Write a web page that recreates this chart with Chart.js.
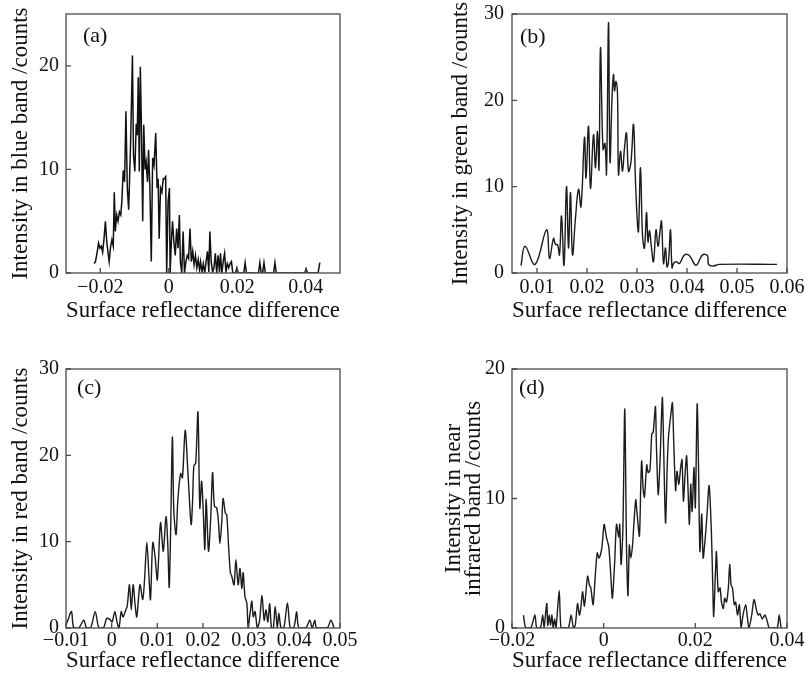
<!DOCTYPE html>
<html>
<head>
<meta charset="utf-8">
<script src="https://cdn.jsdelivr.net/npm/chart.js@4.4.0/dist/chart.umd.min.js"></script>
<style>
body{margin:0;background:#fff;}
#wrap{position:relative;width:807px;height:673px;background:#fff;}
canvas{position:absolute;}
</style>
</head>
<body>
<div id="wrap">
<canvas id="cA" width="360" height="335" style="left:0;top:0"></canvas>
<canvas id="cB" width="367" height="335" style="left:440px;top:0"></canvas>
<canvas id="cC" width="360" height="338" style="left:0;top:335px"></canvas>
<canvas id="cD" width="367" height="338" style="left:440px;top:335px"></canvas>
</div>
<script>
// ===================== Daten =====================
const xTitle = "Surface reflectance difference";

// (a) blue band
const xsA = [-0.0218,-0.0214,-0.0209,-0.0205,-0.0201,-0.0197,-0.0193,-0.0189,-0.0185,-0.0181,
  -0.0177,-0.0174,-0.0170,-0.0166,-0.0162,-0.0159,-0.0156,-0.0152,-0.0148,-0.0144,
  -0.0140,-0.0137,-0.0133,-0.0129,-0.0125,-0.0121,-0.0117,-0.0111,-0.0106,-0.0103,
  -0.0099,-0.0095,-0.0092,-0.0089,-0.0086,-0.0083,-0.0080,-0.0076,-0.0073,-0.0069,
  -0.0066,-0.0062,-0.0059,-0.0055,-0.0051,-0.0047,-0.0043,-0.0038,-0.0034,-0.0031,
  -0.0028,-0.0024,-0.0020,-0.0016,-0.0013,-0.0009,-0.0006,-0.0002,0.0002,0.0004,
  0.0008,0.0011,0.0015,0.0019,0.0023,0.0027,0.0031,0.0034,0.0038,0.0042,
  0.0046,0.0050,0.0054,0.0058,0.0062,0.0066,0.0070,0.0074,0.0078,0.0082,
  0.0086,0.0090,0.0093,0.0097,0.0101,0.0105,0.0109,0.0113,0.0117,0.0120,
  0.0124,0.0128,0.0132,0.0136,0.0140,0.0144,0.0148,0.0151,0.0155,0.0159,
  0.0163,0.0167,0.0171,0.0175,0.0179,0.0183,0.0187,0.0195,0.0199,0.0203,
  0.0219,0.0223,0.0227,0.0262,0.0266,0.0270,0.0274,0.0278,0.0282,0.0306,
  0.0310,0.0314,0.0397,0.0401,0.0405,0.0436,0.0441];
const ysA = [0.9,1.1,2.0,2.9,2.4,2.6,2.0,3.3,5.0,3.0,
  1.9,1.1,2.5,3.2,2.6,7.8,4.0,5.6,5.0,5.9,
  5.6,6.9,9.9,8.8,15.6,8.2,6.1,13.0,21.0,11.4,
  9.8,14.4,13.3,18.9,9.8,19.9,14.6,5.0,14.3,10.0,
  10.7,8.8,11.9,8.2,1.1,11.1,10.4,13.5,8.2,9.1,
  3.3,8.2,7.8,9.1,9.1,9.3,0,6.9,8.2,0,
  3.3,5.0,3.0,1.7,4.3,2.4,5.6,1.1,0,4.0,
  0,1.1,1.7,1.4,4.3,1.1,2.1,0.8,1.7,0.5,
  1.3,0.3,1.1,0.1,0.9,0,1.1,2.1,0.1,4.0,
  1.1,0.1,0.5,1.9,0,1.7,0.1,1.9,0,1.1,
  1.9,0.1,0.9,0.5,0.9,1.1,0,0,0.5,0,
  0,1.0,0,0,1.0,0,0,1.0,0,0,
  1.0,0,0,0.4,0,0,1.0];
const xTicksA = [-0.02, 0, 0.02, 0.04];
const xLabelsA = ["\u22120.02", "0", "0.02", "0.04"];
const yTicksA = [0, 10, 20];

// (b) green band
const xsB = [0.0068,0.0076,0.0096,0.0119,0.0125,0.0133,0.0137,0.0141,0.0145,0.0149,
  0.0154,0.0159,0.0163,0.0167,0.0171,0.0177,0.0183,0.0188,0.0195,0.0198,
  0.0203,0.0207,0.0213,0.0217,0.0221,0.0224,0.0227,0.0232,0.0236,0.0239,
  0.0243,0.0246,0.0250,0.0253,0.0255,0.0258,0.0261,0.0263,0.0267,0.0271,
  0.0275,0.0279,0.0283,0.0288,0.0293,0.0297,0.0301,0.0303,0.0307,0.0311,
  0.0315,0.0319,0.0322,0.0325,0.0329,0.0333,0.0338,0.0342,0.0346,0.0349,
  0.0353,0.0357,0.0360,0.0363,0.0367,0.0370,0.0373,0.0378,0.0385,0.0395,
  0.0405,0.0418,0.0431,0.0441,0.0443,0.0451,0.0465,0.0580];
const ysB = [0.85,3.1,1.0,5.0,1.7,4.0,3.3,3.3,2.1,6.6,
  0.9,10.0,2.9,9.3,2.1,6.4,9.7,7.7,15.7,11.0,
  17.0,9.8,16.0,12.2,16.4,12.0,26.1,14.3,15.0,11.5,
  29.0,12.9,20.3,23.0,21.1,22.2,20.7,11.4,14.1,11.8,
  14.5,16.2,11.8,12.9,17.2,10.6,5.6,4.8,12.2,4.4,
  2.9,7.0,3.6,4.9,2.9,1.3,5.0,3.1,4.8,6.0,
  1.1,2.9,0.7,1.3,5.0,0.6,1.1,1.3,1.1,2.1,
  2.0,0.9,2.1,2.0,1.0,0.8,1.0,1.0];
const xTicksB = [0.01, 0.02, 0.03, 0.04, 0.05, 0.06];
const xLabelsB = ["0.01", "0.02", "0.03", "0.04", "0.05", "0.06"];
const yTicksB = [0, 10, 20, 30];

// (c) red band
const xsC = [-0.0101,-0.0096,-0.0088,-0.0083,-0.0072,-0.0061,-0.0055,-0.0046,-0.0036,-0.0028,
  -0.0018,-0.0011,-0.0004,0.0001,0.0007,0.0012,0.0016,0.0021,0.0025,0.0031,
  0.0034,0.0039,0.0043,0.0047,0.0051,0.0055,0.0062,0.0068,0.0072,0.0077,
  0.0082,0.0085,0.0090,0.0095,0.0100,0.0107,0.0113,0.0119,0.0123,0.0126,
  0.0129,0.0133,0.0136,0.0141,0.0145,0.0151,0.0155,0.0161,0.0167,0.0174,
  0.0177,0.0180,0.0184,0.0189,0.0193,0.0197,0.0201,0.0204,0.0207,0.0212,
  0.0217,0.0221,0.0225,0.0230,0.0234,0.0237,0.0241,0.0244,0.0249,0.0252,
  0.0256,0.0260,0.0263,0.0268,0.0272,0.0277,0.0281,0.0285,0.0288,0.0292,
  0.0296,0.0299,0.0303,0.0307,0.0310,0.0314,0.0319,0.0324,0.0329,0.0334,
  0.0338,0.0342,0.0346,0.0350,0.0354,0.0358,0.0363,0.0366,0.0371,0.0377,
  0.0385,0.0391,0.0399,0.0405,0.0410,0.0425,0.0434,0.0439,0.0445,0.0449,
  0.0472,0.0480,0.0487];
const ysC = [0.2,0.9,1.9,0,0,0.9,0,0,1.9,0,
  0,1.1,1.0,0.7,1.9,0.6,0,1.9,1.3,2.1,
  2.5,5.0,2.1,5.0,2.9,1.3,5.0,3.3,5.6,9.9,
  5.6,3.3,9.9,8.3,5.6,12.2,8.9,12.9,9.5,4.7,
  11.0,22.1,13.7,10.8,14.9,17.9,17.4,22.9,18.0,12.0,
  14.5,18.8,19.1,25.0,13.9,17.0,12.9,9.1,14.9,8.9,
  12.9,18.0,14.1,13.9,12.2,9.8,12.2,15.0,13.3,13.1,
  9.5,6.4,6.0,5.0,7.9,5.0,6.9,4.6,6.4,3.6,
  2.9,0,1.7,3.1,1.3,1.9,0,0.9,3.8,0.9,
  2.1,0.7,2.8,0,0,2.5,0,1.7,0,0,
  2.9,0,0,1.9,0,0,0.9,0,0.9,0,
  0,0.9,0];
const xTicksC = [-0.01, 0, 0.01, 0.02, 0.03, 0.04, 0.05];
const xLabelsC = ["\u22120.01", "0", "0.01", "0.02", "0.03", "0.04", "0.05"];
const yTicksC = [0, 10, 20, 30];

// (d) near infrared band
const xsD = [-0.0175,-0.0170,-0.0159,-0.0150,-0.0146,-0.0138,-0.0133,-0.0130,-0.0127,-0.0124,
  -0.0122,-0.0119,-0.0116,-0.0113,-0.0110,-0.0107,-0.0104,-0.0097,-0.0093,-0.0084,
  -0.0077,-0.0071,-0.0066,-0.0062,-0.0057,-0.0053,-0.0050,-0.0046,-0.0042,-0.0035,
  -0.0031,-0.0028,-0.0023,-0.0018,-0.0014,-0.0010,-0.0004,0.0001,0.0006,0.0011,
  0.0015,0.0019,0.0024,0.0028,0.0033,0.0035,0.0038,0.0042,0.0046,0.0050,
  0.0053,0.0056,0.0059,0.0063,0.0066,0.0070,0.0073,0.0078,0.0081,0.0083,
  0.0086,0.0089,0.0094,0.0097,0.0101,0.0105,0.0108,0.0113,0.0115,0.0119,
  0.0123,0.0128,0.0131,0.0135,0.0139,0.0142,0.0146,0.0150,0.0153,0.0157,
  0.0160,0.0164,0.0168,0.0171,0.0174,0.0178,0.0181,0.0184,0.0187,0.0190,
  0.0193,0.0197,0.0200,0.0204,0.0207,0.0210,0.0214,0.0217,0.0221,0.0225,
  0.0230,0.0235,0.0238,0.0240,0.0244,0.0246,0.0250,0.0254,0.0257,0.0261,
  0.0264,0.0268,0.0272,0.0275,0.0278,0.0281,0.0285,0.0288,0.0292,0.0296,
  0.0300,0.0304,0.0310,0.0313,0.0317,0.0323,0.0328,0.0334,0.0337,0.0341,
  0.0346,0.0352,0.0357,0.0361,0.0366,0.0374,0.0379,0.0383,0.0387];
const ysD = [1.0,0,0,1.0,0,0,1.0,0,1.0,1.9,
  0.2,1.0,0.2,1.0,0,0.7,0,2.9,0,0,
  0,1.0,0,0.2,1.9,1.0,1.5,2.8,1.7,4.0,
  3.3,3.1,1.8,4.2,5.8,5.4,6.2,8.0,7.0,6.3,
  4.4,2.3,5.1,8.0,7.0,8.0,4.9,7.7,16.9,5.9,
  2.5,6.4,5.4,6.4,8.1,9.9,8.8,7.1,11.1,12.9,
  10.8,10.1,12.6,12.0,12.2,15.0,15.1,17.1,14.2,10.3,
  12.9,17.8,13.7,8.1,12.9,15.0,16.3,17.4,14.2,10.6,
  12.1,11.1,12.4,13.0,9.8,12.1,13.3,10.8,8.0,11.1,
  9.0,12.4,9.3,17.3,12.4,5.9,8.8,5.4,6.7,8.5,
  11.0,7.5,3.3,0.9,4.4,5.9,2.8,3.1,2.0,1.5,
  2.3,2.0,3.1,4.9,3.3,3.1,1.8,2.0,1.0,1.8,
  0,1.0,1.8,1.0,0,1.0,2.2,1.3,1.0,1.1,
  0.7,1.0,0.5,0,0,0,0,1.0,0];
const xTicksD = [-0.02, 0, 0.02, 0.04];
const xLabelsD = ["\u22120.02", "0", "0.02", "0.04"];
const yTicksD = [0, 10, 20];

// ===================== Zeichnen =====================
const FONT = '"Liberation Serif", "Times New Roman", serif';
const INK = "#111";

// Rahmen, Ticks nach innen, Panel-Buchstabe
const framePlugin = {
  id: "frame",
  afterDatasetsDraw(chart, args, opts){
    const {ctx, chartArea:a, scales} = chart;
    ctx.save();
    ctx.strokeStyle = "#4a4a4a";
    ctx.lineWidth = 1.3;
    ctx.strokeRect(a.left, a.top, a.right-a.left, a.bottom-a.top);
    ctx.beginPath();
    scales.x.ticks.forEach(t=>{
      const p = scales.x.getPixelForValue(t.value);
      ctx.moveTo(p, a.bottom); ctx.lineTo(p, a.bottom-5);
    });
    scales.y.ticks.forEach(t=>{
      const p = scales.y.getPixelForValue(t.value);
      ctx.moveTo(a.left, p); ctx.lineTo(a.left+5, p);
    });
    ctx.stroke();
    ctx.fillStyle = INK;
    ctx.font = "22px " + FONT;
    ctx.textBaseline = "middle";
    ctx.fillText(opts.tag, a.left+opts.dx, a.top+opts.dy);
    ctx.restore();
  }
};

function makePanel(id, p){
  const pts = p.xs.map((x,i)=>({x:x, y:p.ys[i]}));
  return new Chart(document.getElementById(id), {
    type: "line",
    data: {datasets:[{data:pts, borderColor:p.color, borderWidth:p.lw, pointRadius:0, tension:p.tension, fill:false}]},
    options: {
      responsive:false, animation:false, events:[],
      layout:{padding:{left:0, top:p.top, right:p.right, bottom:0}},
      plugins:{legend:{display:false}, tooltip:{enabled:false}, frame:{tag:p.tag, dx:p.tagDx, dy:p.tagDy}},
      scales:{
        x:{
          type:"linear", min:p.xMin, max:p.xMax,
          grid:{display:false, drawTicks:false}, border:{display:false},
          ticks:{autoSkip:false, maxRotation:0, padding:p.xTickPad, color:INK,
                 font:{family:FONT, size:20, lineHeight:1}, callback:(v,i)=>p.xLabels[i]},
          afterBuildTicks: s=>{ s.ticks = p.xTicks.map(v=>({value:v})); },
          afterFit: s=>{ s.height = p.xh; s.paddingLeft = 0; s.paddingRight = 0; },
          title:{display:true, text:xTitle, color:INK, font:{family:FONT, size:23, lineHeight:1},
                 padding:{top:0, bottom:p.xTitlePad}}
        },
        y:{
          min:0, max:p.yMax,
          grid:{display:false, drawTicks:false}, border:{display:false},
          ticks:{padding:p.yTickPad, color:INK, font:{family:FONT, size:20, lineHeight:1}},
          afterBuildTicks: s=>{ s.ticks = p.yTicks.map(v=>({value:v})); },
          afterFit: s=>{ s.width = p.yw; s.paddingTop = 0; s.paddingBottom = 0; },
          title:{display:true, text:p.yTitle, color:INK, font:{family:FONT, size:23, lineHeight:p.yTitleLH},
                 padding:{top:p.yTitlePad, bottom:0}}
        }
      }
    },
    plugins:[framePlugin]
  });
}

makePanel("cA", {xs:xsA, ys:ysA, xTicks:xTicksA, xLabels:xLabelsA, yTicks:yTicksA,
  xMin:-0.03, xMax:0.05, yMax:25, color:"#111", lw:1.5, tension:0,
  top:14, right:20, xh:62, yw:66, xTickPad:5, xTitlePad:12.5, yTickPad:7,
  yTitle:"Intensity in blue band /counts", yTitleLH:1, yTitlePad:9.5,
  tag:"(a)", tagDx:17, tagDy:22});

makePanel("cB", {xs:xsB, ys:ysB, xTicks:xTicksB, xLabels:xLabelsB, yTicks:yTicksB,
  xMin:0.005, xMax:0.06, yMax:30, color:"#1c1c1c", lw:1.4, tension:0.4,
  top:14, right:20, xh:62, yw:72, xTickPad:5, xTitlePad:12.5, yTickPad:8,
  yTitle:"Intensity in green band /counts", yTitleLH:1, yTitlePad:9.5,
  tag:"(b)", tagDx:8, tagDy:23});

makePanel("cC", {xs:xsC, ys:ysC, xTicks:xTicksC, xLabels:xLabelsC, yTicks:yTicksC,
  xMin:-0.01, xMax:0.05, yMax:30, color:"#1c1c1c", lw:1.4, tension:0.3,
  top:34, right:20, xh:45, yw:66, xTickPad:3, xTitlePad:0.5, yTickPad:7,
  yTitle:"Intensity in red band /counts", yTitleLH:1, yTitlePad:9.5,
  tag:"(c)", tagDx:11, tagDy:19});

makePanel("cD", {xs:xsD, ys:ysD, xTicks:xTicksD, xLabels:xLabelsD, yTicks:yTicksD,
  xMin:-0.02, xMax:0.04, yMax:20, color:"#1c1c1c", lw:1.4, tension:0.25,
  top:34, right:20, xh:45, yw:72, xTickPad:3, xTitlePad:0.5, yTickPad:7,
  yTitle:["Intensity in near", "infrared band /counts"], yTitleLH:"20px", yTitlePad:4,
  tag:"(d)", tagDx:7, tagDy:19});
</script>
</body>
</html>
